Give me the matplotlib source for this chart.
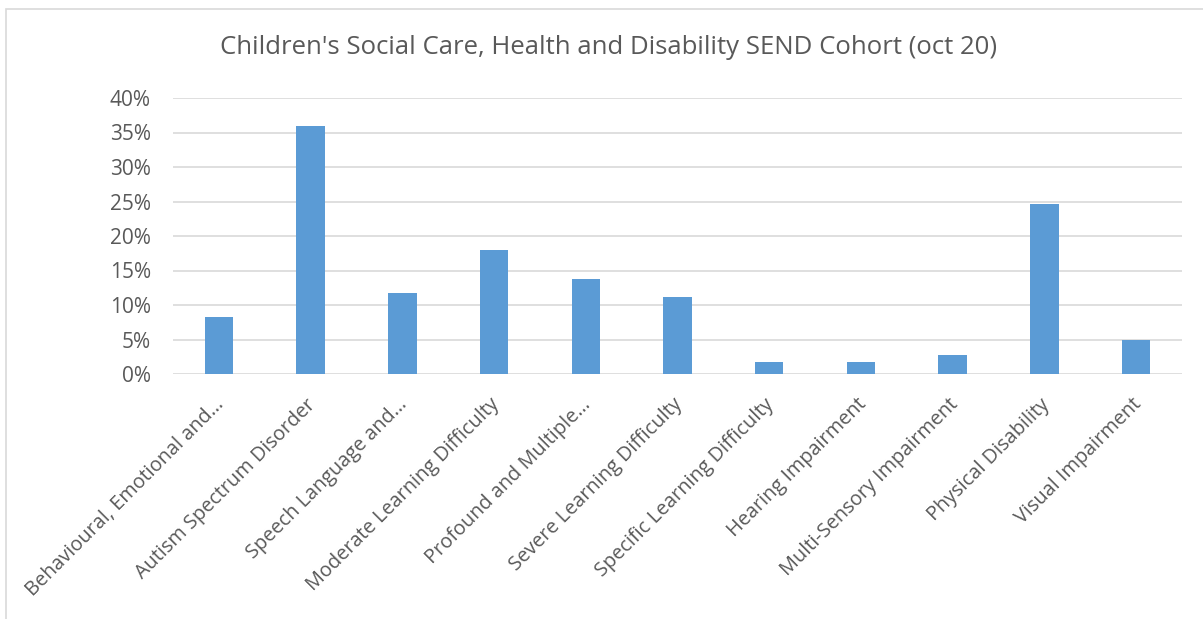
import matplotlib
matplotlib.use("Agg")
import matplotlib.pyplot as plt
from matplotlib.patches import Rectangle
from matplotlib.ticker import PercentFormatter
from matplotlib.transforms import ScaledTranslation

# Categorias y valores (fraccion del cohorte)
categorias = ["Behavioural, Emotional and…", "Autism Spectrum Disorder",
              "Speech Language and…", "Moderate Learning Difficulty",
              "Profound and Multiple…", "Severe Learning Difficulty",
              "Specific Learning Difficulty", "Hearing Impairment",
              "Multi-Sensory Impairment", "Physical Disability",
              "Visual Impairment"]
valores = [0.083, 0.360, 0.118, 0.179, 0.137, 0.111,
           0.017, 0.017, 0.027, 0.247, 0.050]
ticks_y = [0, 0.05, 0.10, 0.15, 0.20, 0.25, 0.30, 0.35, 0.40]

gris = "#595959"
plt.rcParams["font.family"] = ["Open Sans", "DejaVu Sans"]

fig = plt.figure(figsize=(12.03, 6.19), dpi=100)
ax = fig.add_axes([173 / 1203, 1 - 374 / 619, 1009 / 1203, 276 / 619])

x = range(len(categorias))
ax.bar(x, valores, width=0.31, color="#5B9BD5", zorder=3)

ax.set_xlim(-0.5, len(categorias) - 0.5)
ax.set_ylim(0, 0.40)
ax.set_yticks(ticks_y)
ax.yaxis.set_major_formatter(PercentFormatter(1.0, decimals=0))
ax.set_xticks(list(x))
ax.set_xticklabels(categorias, rotation=45, ha="right", rotation_mode="anchor")

ax.tick_params(axis="both", length=0, colors=gris)
ax.tick_params(axis="y", pad=16, labelsize=15)
ax.tick_params(axis="x", pad=12, labelsize=14.3)
ax.grid(axis="y", color="#d9d9d9", linewidth=1.2, zorder=0)
for s in ax.spines.values():
    s.set_visible(False)

# desplazar un poco las etiquetas del eje X (izquierda y abajo)
desplazamiento = ScaledTranslation(-5 / 100, -4 / 100, fig.dpi_scale_trans)
for etiqueta in ax.get_xticklabels():
    etiqueta.set_transform(etiqueta.get_transform() + desplazamiento)

# Titulo
fig.text(608.5 / 1203, 1 - 48 / 619,
         "Children's Social Care, Health and Disability SEND Cohort (oct 20)",
         ha="center", va="center", fontsize=18.5, color=gris)

# Borde del area del grafico
fig.patches.append(Rectangle((6 / 1203, -0.05), 1.1, 1 - 9 / 619 + 0.05,
                             transform=fig.transFigure, fill=False,
                             edgecolor="#d9d9d9", linewidth=1.2))

plt.savefig("out.png", dpi=100)
